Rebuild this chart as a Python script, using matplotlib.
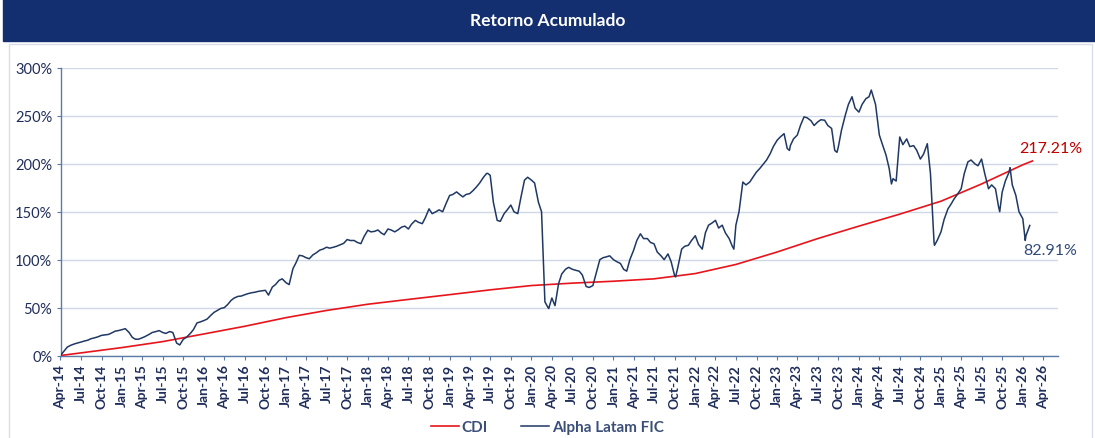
import pandas as pd
import matplotlib
matplotlib.use("Agg")
import matplotlib.pyplot as plt
import matplotlib.dates as mdates
from matplotlib.ticker import FuncFormatter
from matplotlib.patches import Rectangle

plt.rcParams['font.family'] = ['Lato', 'DejaVu Sans']

# Alpha Latam FIC - valor no dia 1 de cada mes (Apr-14 .. Feb-26), em %
alpha_inicio = [
    0, 8.7, 12, 14, 16, 18.5, 21, 22, 25.4, 27, 24, 17,
    18.5, 22, 25, 24, 25, 13, 17, 23, 34, 36.5, 42, 47,
    50, 57.5, 61.7, 63.4, 65.5, 67, 68, 71.4, 78.4, 76, 90.6, 104.5,
    102, 105, 110, 113, 113, 115.7, 121, 120, 116.7, 130.7, 129.6, 128,
    132, 129, 134, 132, 141, 137.6, 153, 150, 150, 167, 170.7, 165.5,
    169, 176, 186, 188, 141, 148, 157, 148, 183, 183, 160, 56,
    60, 75, 90, 90, 88, 72, 73, 100, 103, 100, 96, 88,
    110, 127, 122, 116.5, 104, 106, 83, 111, 115, 125, 111, 136,
    141, 136, 122, 136, 181, 181, 191.5, 200, 210.6, 224.6, 231.5, 219,
    230, 249, 245, 243.7, 245.5, 237, 217.6, 250.7, 270, 254, 268, 273,
    230, 209, 184.5, 228, 226, 219, 205, 221, 118, 129, 153, 163.6,
    174, 202, 200, 205, 174, 174, 170.5, 191.5, 167, 142.7, 135.7,
]
# valor no dia 15 de cada mes (Apr-14 .. Jan-26)
alpha_meio = [
    4, 10.5, 13, 15, 17.5, 19.5, 21.5, 23.5, 26, 28, 19, 17,
    20, 24, 26, 23, 24, 11, 19, 27, 35, 38, 45, 49,
    53, 60, 62, 64.5, 66, 67.5, 63, 74, 80, 74, 97, 104,
    101, 107, 111, 112, 114, 117, 120, 118, 124, 129, 131, 126,
    131, 131, 135, 137, 139, 144, 148, 152, 158, 168, 168, 168,
    172, 180, 190, 160, 140, 152, 150, 165, 186, 180, 150, 50,
    52, 85, 92, 89, 84, 71, 85, 102, 104, 98, 90, 100,
    120, 122, 118, 108, 100, 98, 92, 114, 120, 116, 128, 138,
    133, 128, 114, 150, 178, 186, 195, 204, 218, 228, 216, 226,
    240, 248, 240, 246, 240, 214, 235, 262, 258, 262, 270, 262,
    220, 195, 182, 220, 218, 214, 210, 190, 120, 142, 158, 168,
    190, 204, 198, 190, 178, 155, 182, 178, 150, 125,
]
# extremos visiveis entre os pontos acima
alpha_extra_datas = ['2019-06-20', '2020-03-18', '2021-10-05', '2022-06-22', '2023-02-25',
                     '2023-09-25', '2024-02-25', '2024-05-25', '2024-12-03', '2025-09-20',
                     '2025-11-05', '2026-01-12']
alpha_extra_vals = [190, 49, 82, 111, 214,
                    212, 277, 179, 115, 150,
                    196, 120]

# CDI acumulado
cdi_datas = ['2014-04-01', '2014-07-01', '2014-10-01', '2015-01-01', '2015-07-01',
             '2016-01-01', '2016-07-01', '2017-01-01', '2017-07-01', '2018-01-01',
             '2018-07-01', '2019-01-01', '2019-07-01', '2020-01-01', '2020-07-01',
             '2021-01-01', '2021-07-01', '2022-01-01', '2022-07-01', '2023-01-01',
             '2023-07-01', '2024-01-01', '2024-07-01', '2025-01-01', '2025-07-01',
             '2026-01-01', '2026-02-13']
cdi_vals = [0, 2.7, 5.5, 8.3, 14.5,
            22.5, 30.5, 39.5, 47, 53.5,
            58.5, 63.5, 68.5, 73, 75.5,
            77.5, 80, 85.5, 95, 108,
            122, 135, 147.5, 161, 179,
            199, 203]

alpha = pd.concat([
    pd.Series(alpha_inicio, index=pd.date_range('2014-04-01', periods=len(alpha_inicio), freq='MS')),
    pd.Series(alpha_meio, index=pd.date_range('2014-04-01', periods=len(alpha_meio), freq='MS')
              + pd.Timedelta(days=14)),
    pd.Series(alpha_extra_vals, index=pd.to_datetime(alpha_extra_datas)),
]).sort_index()
cdi = pd.Series(cdi_vals, index=pd.to_datetime(cdi_datas))

navy = '#1F3864'
red = '#E8141B'
txt = '#1F2D5A'
axis_col = '#5B7BA6'

fig = plt.figure(figsize=(10.95, 4.39), dpi=100)

# faixa do titulo e moldura
fig.patches.append(Rectangle((3 / 1095, 1 - 42 / 439), 1, 42 / 439, transform=fig.transFigure,
                             color='#142F6F', zorder=0))
fig.patches.append(Rectangle((9 / 1095, -0.01), 1083 / 1095, 1 - 45 / 439 + 0.01,
                             transform=fig.transFigure, fill=False, edgecolor='#D9DEE6', lw=1))
fig.text(0.5, 1 - 21 / 439, 'Retorno Acumulado', color='white', fontsize=12.5,
         fontweight='bold', ha='center', va='center')

ax = fig.add_axes([60.5 / 1095, 1 - 356.5 / 439, (1058 - 60.5) / 1095, (356.5 - 69) / 439])
ax.plot(cdi.index, cdi.values, color=red, lw=1.2, label='CDI', zorder=3)
ax.plot(alpha.index, alpha.values, color=navy, lw=1.1, label='Alpha Latam FIC', zorder=4)

ax.set_ylim(0, 300)
ax.set_yticks(range(0, 301, 50))
ax.yaxis.set_major_formatter(FuncFormatter(lambda v, p: f'{v:.0f}%'))
ax.set_xlim(pd.Timestamp('2014-04-01'), pd.Timestamp('2026-06-07'))
ax.xaxis.set_major_locator(mdates.MonthLocator(bymonth=[1, 4, 7, 10]))
ax.xaxis.set_major_formatter(mdates.DateFormatter('%b-%y'))

ax.grid(axis='y', color='#CFD8E6', lw=1, zorder=1)
for s in ['top', 'right']:
    ax.spines[s].set_visible(False)
for s in ['left', 'bottom']:
    ax.spines[s].set_color(axis_col)
    ax.spines[s].set_linewidth(1)
ax.tick_params(axis='y', colors=axis_col, labelcolor=txt, labelsize=10.5, length=3, pad=3)
ax.tick_params(axis='x', colors=axis_col, labelcolor=txt, labelsize=10, length=3, pad=3,
               labelrotation=90)
for lab in ax.get_xticklabels():
    lab.set_fontweight('bold')

ax.text(pd.Timestamp('2025-12-15'), 217, '217.21%', color='#C00000', fontsize=11.5,
        ha='left', va='center')
ax.text(pd.Timestamp('2026-01-01'), 110, '82.91%', color='#2F4A7A', fontsize=11.5,
        ha='left', va='center')

leg = fig.legend(loc='center', bbox_to_anchor=(0.5, 1 - 428 / 439), ncol=2, frameon=False,
                 handlelength=1.8, handletextpad=0.2, columnspacing=2.2, fontsize=11)
for t in leg.get_texts():
    t.set_fontweight('bold')
    t.set_color('#3B4F7A')

fig.savefig('out.png', dpi=100)
